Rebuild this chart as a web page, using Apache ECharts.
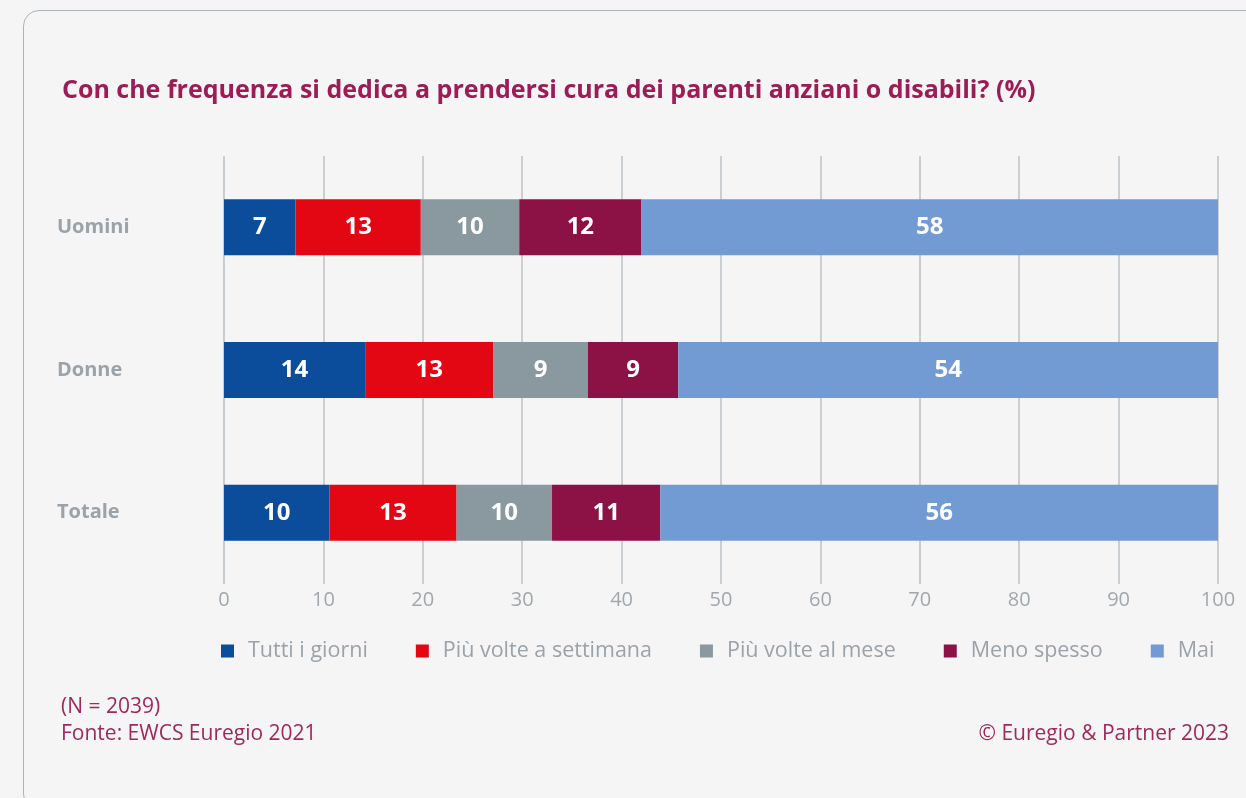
<!DOCTYPE html>
<html>
<head>
<meta charset="utf-8">
<script src="https://cdn.jsdelivr.net/npm/echarts@6/dist/echarts.min.js"></script>
<style>
  html, body { margin: 0; padding: 0; width: 1246px; height: 798px; background: #f5f5f5; overflow: hidden; font-family: "Open Sans", "Noto Sans", sans-serif; }
  #card { position: absolute; left: 23px; top: 10px; width: 1240px; height: 800px; border: 1.5px solid #a9b4bb; border-radius: 16px; box-sizing: border-box; }
  #chart { position: absolute; left: 0; top: 0; width: 1246px; height: 798px; }
</style>
</head>
<body>
<div id="card"></div>
<div id="chart"></div>
<script>
const categories = ['Uomini', 'Donne', 'Totale'];
const seriesNames = ['Tutti i giorni', 'Più volte a settimana', 'Più volte al mese', 'Meno spesso', 'Mai'];
// bar lengths (%)
const tuttiGiorni = [7.2, 14.2, 10.6];
const piuVolteSettimana = [12.6, 12.9, 12.8];
const piuVolteMese = [9.9, 9.5, 9.6];
const menoSpesso = [12.3, 9.1, 10.9];
const mai = [58.0, 54.3, 56.1];
// printed labels
const tuttiGiorniLabel = [7, 14, 10];
const piuVolteSettimanaLabel = [13, 13, 13];
const piuVolteMeseLabel = [10, 9, 10];
const menoSpessoLabel = [12, 9, 11];
const maiLabel = [58, 54, 56];
const xTicks = [0, 10, 20, 30, 40, 50, 60, 70, 80, 90, 100];

const colors = ['#0b4c9b', '#e30613', '#8a989f', '#8c1245', '#739bd3'];
const values = [tuttiGiorni, piuVolteSettimana, piuVolteMese, menoSpesso, mai];
const labels = [tuttiGiorniLabel, piuVolteSettimanaLabel, piuVolteMeseLabel, menoSpessoLabel, maiLabel];

const font = '"Open Sans", "Noto Sans", sans-serif';
const chart = echarts.init(document.getElementById('chart'), null, { renderer: 'canvas' });

const series = seriesNames.map((name, i) => ({
  name: name,
  type: 'bar',
  stack: 'total',
  barWidth: 56,
  itemStyle: { color: colors[i] },
  label: {
    show: true,
    position: 'inside',
    color: '#ffffff',
    fontFamily: font,
    fontWeight: 'bold',
    fontSize: 24,
    formatter: p => String(labels[i][p.dataIndex])
  },
  emphasis: { disabled: true },
  data: values[i]
}));

chart.setOption({
  animation: false,
  backgroundColor: 'transparent',
  textStyle: { fontFamily: font },
  title: [
    {
      text: 'Con che frequenza si dedica a prendersi cura dei parenti anziani o disabili? (%)',
      left: 57, top: 73,
      textStyle: { color: '#9c1c55', fontSize: 25, fontWeight: 'bold', fontFamily: font }
    },
    {
      text: '(N = 2039)\nFonte: EWCS Euregio 2021',
      left: 56, top: 689,
      textStyle: { color: '#9c2a5c', fontSize: 21, fontWeight: 'normal', fontFamily: font, lineHeight: 27 }
    },
    {
      text: '© Euregio & Partner 2023',
      right: 12, top: 716,
      textStyle: { color: '#9c2a5c', fontSize: 21, fontWeight: 'normal', fontFamily: font, lineHeight: 27 }
    }
  ],
  legend: {
    left: 216, top: 635,
    itemWidth: 13, itemHeight: 13, itemGap: 48,
    icon: 'rect',
    selectedMode: false,
    textStyle: { color: '#9aa3a9', fontSize: 21.5, fontFamily: font, padding: [0, 0, 0, 9] },
    data: seriesNames
  },
  grid: { left: 224, right: 28, top: 156, bottom: 214, containLabel: false },
  xAxis: {
    type: 'value',
    min: 0, max: 100, interval: 10,
    axisLine: { show: false },
    axisTick: { show: false },
    splitLine: { show: true, lineStyle: { color: '#c9cfd3', width: 2 } },
    axisLabel: { color: '#a0a8ad', fontSize: 20, margin: 6, fontFamily: font,
      formatter: v => xTicks.includes(v) ? String(v) : '' }
  },
  yAxis: {
    type: 'category',
    inverse: true,
    data: categories,
    axisLine: { show: false },
    axisTick: { show: false },
    axisLabel: { color: '#9aa3a9', fontSize: 20, fontWeight: 'bold', align: 'left', margin: 167, fontFamily: font }
  },
  series: series
});
</script>
</body>
</html>
